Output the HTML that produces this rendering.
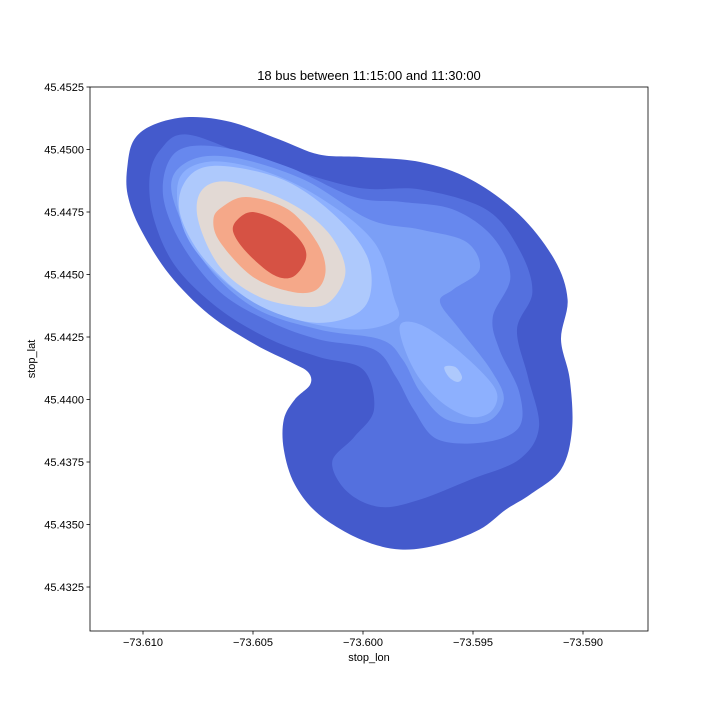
<!DOCTYPE html>
<html><head><meta charset="utf-8"><style>
body{margin:0;background:#fff}
svg text{font-family:"Liberation Sans",sans-serif;fill:#000}
</style></head><body>
<svg id="chart" width="720" height="720" xmlns="http://www.w3.org/2000/svg">
<rect width="720" height="720" fill="#fff"/>
<g id="contours"></g>
<g id="axes"></g>
<text x="369" y="80" font-size="13" text-anchor="middle">18 bus between 11:15:00 and 11:30:00</text>
<text x="369" y="661" font-size="11" text-anchor="middle">stop_lon</text>
<text x="35" y="359" font-size="11" text-anchor="middle" transform="rotate(-90 35 359)">stop_lat</text>
</svg>
<script>
const xTicks = [-73.610, -73.605, -73.600, -73.595, -73.590];
const xTickLabels = ["\u221273.610", "\u221273.605", "\u221273.600", "\u221273.595", "\u221273.590"];
const yTicks = [45.4325, 45.4350, 45.4375, 45.4400, 45.4425, 45.4450, 45.4475, 45.4500, 45.4525];
const yTickLabels = ["45.4325", "45.4350", "45.4375", "45.4400", "45.4425", "45.4450", "45.4475", "45.4500", "45.4525"];
const levelColors = ["#445acc", "#5470de", "#6788ee", "#7b9ff6", "#8db0fe", "#aec9fc", "#aec9fc", "#e2d9d4", "#f5a889", "#d65244"];
const level1 = [[-73.6107,45.4494],[-73.6104,45.4504],[-73.6095,45.4510],[-73.6079,45.4513],[-73.6060,45.4511],[-73.6038,45.4504],[-73.6020,45.4498],[-73.6001,45.4497],[-73.5974,45.4495],[-73.5951,45.4488],[-73.5929,45.4474],[-73.5913,45.4456],[-73.5907,45.4440],[-73.5910,45.4424],[-73.5906,45.4408],[-73.5905,45.4388],[-73.5910,45.4372],[-73.5924,45.4362],[-73.5935,45.4356],[-73.5947,45.4348],[-73.5965,45.4342],[-73.5983,45.4340],[-73.6001,45.4344],[-73.6020,45.4354],[-73.6031,45.4366],[-73.6036,45.4380],[-73.6036,45.4392],[-73.6031,45.4400],[-73.6024,45.4406],[-73.6025,45.4411],[-73.6033,45.4415],[-73.6049,45.4422],[-73.6070,45.4434],[-73.6088,45.4450],[-73.6101,45.4468],[-73.6107,45.4482]];
const level2 = [[-73.6097,45.4489],[-73.6092,45.4500],[-73.6080,45.4506],[-73.6050,45.4497],[-73.6004,45.4485],[-73.5974,45.4484],[-73.5944,45.4476],[-73.5929,45.4460],[-73.5923,45.4443],[-73.5930,45.4428],[-73.5925,45.4409],[-73.5920,45.4389],[-73.5929,45.4376],[-73.5951,45.4368],[-73.5974,45.4360],[-73.5992,45.4357],[-73.6007,45.4363],[-73.6014,45.4375],[-73.6004,45.4385],[-73.5995,45.4396],[-73.6000,45.4412],[-73.6020,45.4417],[-73.6042,45.4424],[-73.6065,45.4436],[-73.6085,45.4453],[-73.6095,45.4472]];
const level3 = [[-73.6091,45.4483],[-73.6085,45.4499],[-73.6065,45.4501],[-73.6034,45.4493],[-73.6004,45.4481],[-73.5982,45.4479],[-73.5959,45.4476],[-73.5941,45.4465],[-73.5933,45.4449],[-73.5941,45.4433],[-73.5938,45.4420],[-73.5929,45.4403],[-73.5929,45.4389],[-73.5944,45.4383],[-73.5966,45.4384],[-73.5977,45.4396],[-73.5985,45.4409],[-73.5995,45.4420],[-73.6020,45.4424],[-73.6042,45.4431],[-73.6065,45.4443],[-73.6083,45.4463]];
const level4 = [[-73.6087,45.4483],[-73.6080,45.4495],[-73.6060,45.4497],[-73.6027,45.4488],[-73.5997,45.4472],[-73.5974,45.4468],[-73.5953,45.4463],[-73.5947,45.4452],[-73.5959,45.4444],[-73.5965,45.4439],[-73.5956,45.4428],[-73.5942,45.4412],[-73.5936,45.4400],[-73.5944,45.4391],[-73.5962,45.4392],[-73.5974,45.4403],[-73.5982,45.4416],[-73.5992,45.4424],[-73.6020,45.4428],[-73.6050,45.4437],[-73.6073,45.4456]];
const level5a = [[-73.6084,45.4487],[-73.6071,45.4495],[-73.6047,45.4492],[-73.6020,45.4481],[-73.5995,45.4463],[-73.5986,45.4441],[-73.5985,45.4432],[-73.6004,45.4428],[-73.6034,45.4433],[-73.6060,45.4445],[-73.6080,45.4465]];
const level5b = [[-73.5983,45.4430],[-73.5974,45.4430],[-73.5960,45.4422],[-73.5945,45.4410],[-73.5939,45.4402],[-73.5942,45.4395],[-73.5951,45.4393],[-73.5963,45.4398],[-73.5974,45.4408],[-73.5981,45.4420]];
const level6 = [[-73.6083,45.4483],[-73.6075,45.4492],[-73.6059,45.4493],[-73.6034,45.4487],[-73.6012,45.4473],[-73.5998,45.4457],[-73.5997,45.4441],[-73.6006,45.4433],[-73.6025,45.4431],[-73.6050,45.4439],[-73.6071,45.4455],[-73.6082,45.4471]];
const level6b = [[-73.5963,45.4413],[-73.5958,45.4413],[-73.5955,45.4409],[-73.5957,45.4407],[-73.5961,45.4409]];
const level7 = [[-73.6073,45.4484],[-73.6060,45.4487],[-73.6034,45.4479],[-73.6016,45.4467],[-73.6008,45.4452],[-73.6014,45.4440],[-73.6025,45.4437],[-73.6047,45.4441],[-73.6065,45.4453],[-73.6075,45.4472]];
const level8 = [[-73.6064,45.4477],[-73.6053,45.4481],[-73.6034,45.4476],[-73.6021,45.4463],[-73.6017,45.4452],[-73.6021,45.4444],[-73.6032,45.4443],[-73.6050,45.4449],[-73.6065,45.4463],[-73.6068,45.4472]];
const level9 = [[-73.6057,45.4472],[-73.6050,45.4475],[-73.6038,45.4471],[-73.6028,45.4463],[-73.6026,45.4456],[-73.6032,45.4449],[-73.6041,45.4450],[-73.6053,45.4459],[-73.6059,45.4467]];
const contourLevels = [level1, level2, level3, level4, level5a, level5b, level6, level6b, level7, level8, level9];
const contourColorIdx = [0, 1, 2, 3, 4, 4, 5, 6, 7, 8, 9];

const X0 = 90, X1 = 648, Y0 = 87, Y1 = 631;
function xs(lon){ return 143 + (lon + 73.610) * 22000; }
function ys(lat){ return 87 + (45.4525 - lat) * 25000; }
const NS = "http://www.w3.org/2000/svg";

function smoothPath(pts){
  const p = pts.map(d => [xs(d[0]), ys(d[1])]);
  const n = p.length;
  let s = "M" + p[0][0].toFixed(1) + "," + p[0][1].toFixed(1);
  for (let i = 0; i < n; i++){
    const a = p[(i-1+n)%n], b = p[i], c = p[(i+1)%n], d = p[(i+2)%n];
    const c1 = [b[0] + (c[0]-a[0])/6, b[1] + (c[1]-a[1])/6];
    const c2 = [c[0] - (d[0]-b[0])/6, c[1] - (d[1]-b[1])/6];
    s += "C" + c1[0].toFixed(1) + "," + c1[1].toFixed(1) + " " + c2[0].toFixed(1) + "," + c2[1].toFixed(1) + " " + c[0].toFixed(1) + "," + c[1].toFixed(1);
  }
  return s + "Z";
}

const cg = document.getElementById("contours");
contourLevels.forEach((lv, i) => {
  const path = document.createElementNS(NS, "path");
  path.setAttribute("d", smoothPath(lv));
  path.setAttribute("fill", levelColors[contourColorIdx[i]]);
  
  
  cg.appendChild(path);
});

const ag = document.getElementById("axes");
const frame = document.createElementNS(NS, "rect");
frame.setAttribute("x", X0); frame.setAttribute("y", Y0);
frame.setAttribute("width", X1 - X0); frame.setAttribute("height", Y1 - Y0);
frame.setAttribute("fill", "none"); frame.setAttribute("stroke", "#000"); frame.setAttribute("stroke-width", "0.8");


ag.appendChild(frame);

xTicks.forEach((v, i) => {
  const x = xs(v);
  const t = document.createElementNS(NS, "line");
  t.setAttribute("x1", x); t.setAttribute("x2", x); t.setAttribute("y1", Y1); t.setAttribute("y2", Y1 + 3.5);
  t.setAttribute("stroke", "#000"); t.setAttribute("stroke-width", "0.8");
  
  
  ag.appendChild(t);
  const lb = document.createElementNS(NS, "text");
  lb.setAttribute("x", x); lb.setAttribute("y", Y1 + 15); lb.setAttribute("font-size", "11"); lb.setAttribute("text-anchor", "middle");
  lb.textContent = xTickLabels[i];
  
  
  ag.appendChild(lb);
});
yTicks.forEach((v, i) => {
  const y = ys(v);
  const t = document.createElementNS(NS, "line");
  t.setAttribute("x1", X0 - 3.5); t.setAttribute("x2", X0); t.setAttribute("y1", y); t.setAttribute("y2", y);
  t.setAttribute("stroke", "#000"); t.setAttribute("stroke-width", "0.8");
  
  
  ag.appendChild(t);
  const lb = document.createElementNS(NS, "text");
  lb.setAttribute("x", X0 - 6); lb.setAttribute("y", y + 4); lb.setAttribute("font-size", "11"); lb.setAttribute("text-anchor", "end");
  lb.textContent = yTickLabels[i];
  
  
  ag.appendChild(lb);
});
</script>
</body></html>
